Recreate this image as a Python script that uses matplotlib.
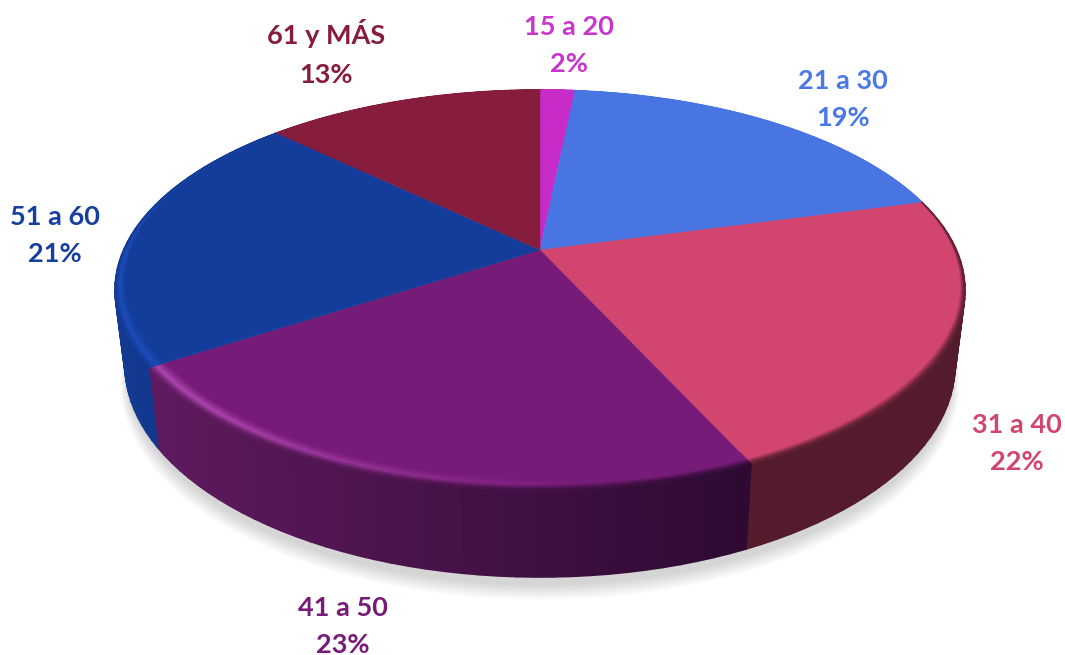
import numpy as np
import matplotlib
matplotlib.use('Agg')
import matplotlib.pyplot as plt
from matplotlib.collections import PolyCollection
from matplotlib.colors import to_rgb

# Age groups and their shares
groups = ['15 a 20', '21 a 30', '31 a 40', '41 a 50', '51 a 60', '61 y MÁS']
shares = [1.6, 19.2, 22.4, 22.6, 21.4, 12.8]

face_colors = ['#C72CC8', '#4975E2', '#D2456F', '#771B78', '#143C9B', '#871D3C']
label_colors = ['#C936CC', '#4A78E6', '#D2456F', '#771B78', '#173F9E', '#871D3C']
wall_left = ['#C72CC8', '#4975E2', '#541B2D', '#5F1A5F', '#123A90', '#871D3C']
wall_right = ['#C72CC8', '#4975E2', '#541B2D', '#2D0A32', '#113488', '#871D3C']
glow_colors = ['#C72CC8', '#4975E2', '#D2456F', '#AC44AE', '#1C4DBB', '#871D3C']
label_pos = [(569, 27), (843, 81), (1017, 425), (343, 608), (55, 217), (326, 34)]

# Pie geometry in pixels: a tilted disc seen in perspective
APEX_X, APEX_Y = 540, 250
TILT = 0.2
SCALE_X, SCALE_Y = 416.4, 192
RIM_CY, RIM_RX, RIM_RY = 290, 425, 200
BASE_CY, BASE_RX, BASE_RY = 365, 415, 212


def project(radius, angle):
    # angle is clockwise from the top of the pie
    x = radius * np.sin(angle)
    y = radius * np.cos(angle)
    d = 1 + TILT * y
    return APEX_X + SCALE_X * x / d, APEX_Y - SCALE_Y * y / d


def base_point(angle):
    # the lower edge of the wall, under the same angle
    x, y = project(1.0, angle)
    ex = (x - APEX_X) / RIM_RX
    ey = (y - RIM_CY) / RIM_RY
    return APEX_X + BASE_RX * ex, BASE_CY + BASE_RY * ey


def mix(a, b, t):
    return tuple(a[i] + (b[i] - a[i]) * t for i in range(3))


fig = plt.figure(figsize=(10.65, 6.55), dpi=100)
ax = fig.add_axes([0, 0, 1, 1])
ax.set_xlim(0, 1065)
ax.set_ylim(655, 0)
ax.axis('off')

edges = np.concatenate([[0], np.cumsum(shares)]) / np.sum(shares) * 2 * np.pi

# Soft shadow under the pie
full = np.linspace(0, 2 * np.pi, 361)
bx, by = base_point(full)
for i in range(14):
    grow = 1 + i * 0.0012
    ax.fill(APEX_X + (bx - APEX_X) * (0.995 + i * 0.0012), BASE_CY + 8 + (by - BASE_CY) * grow + i * 0.9,
            color='black', alpha=0.013, lw=0, zorder=1)

# Side walls
for i in range(len(shares)):
    angles = np.linspace(edges[i], edges[i + 1], 40)
    left = to_rgb(wall_left[i])
    right = to_rgb(wall_right[i])
    quads = []
    colors = []
    tx, ty = project(1.0, angles)
    lx, ly = base_point(angles)
    span = max(tx.max() - tx.min(), 1)
    for j in range(len(angles) - 1):
        quads.append([(tx[j], ty[j]), (tx[j + 1], ty[j + 1]), (lx[j + 1], ly[j + 1]), (lx[j], ly[j])])
        colors.append(mix(left, right, ((tx[j] + tx[j + 1]) / 2 - tx.min()) / span))
    ax.add_collection(PolyCollection(quads, facecolors=colors, edgecolors=colors, linewidths=1.2, zorder=2))

# Top faces
for i in range(len(shares)):
    angles = np.linspace(edges[i], edges[i + 1], 120)
    x, y = project(1.0, angles)
    ax.fill(np.r_[APEX_X, x], np.r_[APEX_Y, y], color=face_colors[i], lw=0.3, zorder=3)

# Bevel along the rim: a glow on the left, darkening into the wall on the right
steps = np.linspace(0, 1, 11)
for i in range(len(shares)):
    angles = np.linspace(edges[i], edges[i + 1], 120)
    face = to_rgb(face_colors[i])
    glow = to_rgb(glow_colors[i])
    left = to_rgb(wall_left[i])
    right = to_rgb(wall_right[i])
    tx = project(1.0, angles)[0]
    span = max(tx.max() - tx.min(), 1)
    quads = []
    colors = []
    for j in range(len(angles) - 1):
        mid = (angles[j] + angles[j + 1]) / 2
        front = np.clip((0.3 - np.cos(mid)) / 0.9, 0, 1)
        width = 0.005 + 0.035 * front
        side = np.clip(-np.sin(mid) * 1.3 + 0.1, 0, 1)
        g = mix(face, glow, side)
        wall = mix(left, right, (project(1.0, mid)[0] - tx.min()) / span)
        for s in range(len(steps) - 1):
            r0 = 1 - width * (1 - steps[s])
            r1 = 1 - width * (1 - steps[s + 1])
            p = [project(r0, angles[j]), project(r0, angles[j + 1]),
                 project(r1, angles[j + 1]), project(r1, angles[j])]
            quads.append(p)
            t = (steps[s] + steps[s + 1]) / 2
            if t < 0.55:
                colors.append(mix(face, g, t / 0.55))
            else:
                colors.append(mix(g, wall, (t - 0.55) / 0.45))
    ax.add_collection(PolyCollection(quads, facecolors=colors, edgecolors=colors, linewidths=0.6, zorder=4))

# Labels
for i in range(len(groups)):
    lx, ly = label_pos[i]
    ax.text(lx, ly, groups[i], color=label_colors[i], family='Lato', fontweight='bold',
            fontsize=19.5, ha='center', va='center')
    ax.text(lx, ly + (41 if i == 5 else 37), f'{round(shares[i])}%', color=label_colors[i], family='Lato',
            fontweight='bold', fontsize=19.5, ha='center', va='center')

fig.savefig('out.png', dpi=100)
